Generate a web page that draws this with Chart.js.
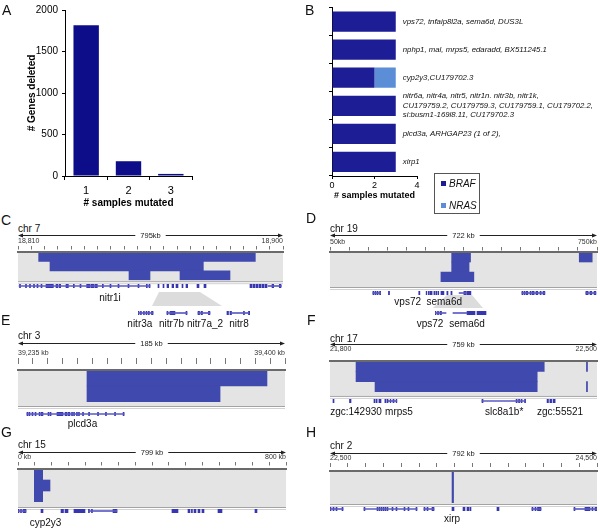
<!DOCTYPE html>
<html>
<head>
<meta charset="utf-8">
<script src="https://cdn.jsdelivr.net/npm/chart.js@4.4.1/dist/chart.umd.min.js"></script>
<style>
  body { margin: 0; width: 600px; height: 531px; position: relative; overflow: hidden; background: #fff;
         font-family: "Liberation Sans", Arial, Helvetica, sans-serif; color: #111; }
  canvas { position: absolute; }
  .txt { position: absolute; line-height: 1; white-space: nowrap; }
  .letter { font-size: 14px; }
  .chr { font-size: 10px; }
  .legend { position: absolute; left: 434px; top: 173px; width: 46px; height: 41px; border: 1px solid #555; box-sizing: border-box; }
  .legend div { position: absolute; left: 6px; font-size: 10px; font-style: italic; line-height: 10px; }
  .legend span { display: inline-block; width: 5px; height: 5px; margin-right: 3px; vertical-align: 1px; }
</style>
</head>
<body>
<script>
// ---- panel A ----
const samplesMutated = ['1', '2', '3'];
const genesDeleted = [1815, 178, 25];

// ---- panel B ----
const brafCounts = [3, 3, 2, 3, 3, 3];
const nrasCounts = [0, 0, 1, 0, 0, 0];
const seriesNames = ['BRAF', 'NRAS'];
const regionGeneLists = [
  ['vps72, tnfaip8l2a, sema6d, DUS3L'],
  ['nphp1, mal, mrps5, edaradd, BX511245.1'],
  ['cyp2y3,CU179702.3'],
  ['nitr6a, nitr4a, nitr5, nitr1n. nitr3b, nitr1k,', 'CU179759.2, CU179759.3, CU179759.1, CU179702.2,', 'si:busm1-169l8.11, CU179702.3'],
  ['plcd3a, ARHGAP23 (1 of 2),'],
  ['xirp1']
];

// ---- panels C-H: deletions [startKb, endKb, row], genes [startKb, endKb], labels [kb, name] ----
const chr7Del = [[62, 712, 0], [96, 556, 1], [333, 396, 2], [486, 636, 2]];
const chr7Exons = [[4.5,7.5],[22.5,25.5],[34.5,37.5],[46.5,49.5],[57,60],[69,72],[84,106],[114,120],[124,128],[144,151],[166,169],[186,189],[206,216],[219,228],[231,238],[253,256],[276,279],[300,303],[330,333],[360,363],[385,388],[393,396],[420,423],[435,438],[447,452],[462,467],[474,480],[492,495],[504,509],[537,543],[558,564],[696,702],[705,711],[714,720],[723,729],[732,738],[741,747],[762,767],[784,789]];
const chr7Introns = [[3, 396], [750, 790]];
const chr7Labels = [[276, 'nitr1i']];
const chr7InsetExons = [[423,424.1],[425.7,426.7],[429,430],[431.8,432.9],[434.4,435.5],[437.8,439.5],[454.8,455.9],[458.1,463.6],[475.7,476.8],[488.9,490.6],[492.2,493.8],[500.3,502],[520.7,522.4],[524,525.7],[538.8,539.9],[544.3,546]];
const chr7InsetIntrons = [[423,439.5],[454.8,476.8],[488.9,502],[525.1,544.9]];
const chr7InsetLabels = [[425,'nitr3a'],[459.8,'nitr7b'],[496.6,'nitr7a_2'],[533.9,'nitr8']];

const chr19Del = [[329, 380, 0], [329, 376, 1], [300, 389, 2], [674, 709, 0]];
const chr19Exons = [[116,119],[122,124],[127,130],[134,137],[158,161],[240,243],[260,262],[266,268],[270,276],[281,283],[286,289],[292,294],[300,308],[316,319],[327,330],[362,368],[370,381],[519,522],[525,527],[530,535],[541,543],[546,552],[557,562],[568,571],[576,581],[692,698],[703,708],[714,719]];
const chr19Introns = [[116,137],[349,368],[519,581],[692,719]];
const chr19Labels = [[210, 'vps72'], [309, 'sema6d']];
const chr19InsetExons = [[316,317.3],[319.3,320.6],[322.5,324.5],[357.9,368.3],[370.9,382.7]];
const chr19InsetIntrons = [[316,330.4],[339.5,357.9]];
const chr19InsetLabels = [[309.5,'vps72'],[357.9,'sema6d']];

const chr3Del = [[47.8, 172.5, 0], [47.8, 140, 1]];
const chr3Exons = [[6.2,6.9],[7.6,8.3],[9.7,10.4],[11.8,12.5],[14.6,15.2],[15.9,17.3],[20.8,21.5],[22.2,22.9],[27,31.2],[32.6,34],[34.7,36],[37.1,37.8],[38.5,39.2],[40.5,41.2],[41.9,42.6],[44.7,45.4],[48.9,49.6],[55.1,55.8],[60.6,61.3],[66.9,67.6],[72.8,73.5]];
const chr3Introns = [[6.2, 73.5]];
const chr3Labels = [[44.7, 'plcd3a']];

const chr17Del = [[74, 609, 0], [74, 589, 1], [128, 589, 2], [729, 732, 0], [729, 732, 2]];
const chr17Exons = [[8.5,11.4],[55.4,59.7],[125,128],[131,134],[139,145],[156,159],[162,165],[171,173],[179,182],[188,190],[432,435],[529,532],[536,539],[543,546],[553,556],[617,621],[625,630],[634,640]];
const chr17Introns = [[165,190],[432,554]];
const chr17Labels = [[73.9,'zgc:142930'],[196,'mrps5'],[495,'slc8a1b*'],[654,'zgc:55521']];

const chr15Del = [[48.6, 73.6, 0], [48.6, 95.4, 1], [48.6, 73.6, 2]];
const chr15Exons = [[0,3],[7.5,10.4],[14.9,23.8],[68.6,74.5],[128.2,135.6],[140.1,149.1],[166.9,199.7],[210,213],[219,222],[283.2,295.1],[459,477],[506.8,512.7],[517,520],[524.7,530.6],[536.6,542.5],[548.5,554.5],[596.2,608.1],[706.5,712.5]];
const chr15Introns = [[0,23.8],[211.7,295.1]];
const chr15Labels = [[82, 'cyp2y3']];

const chr2Del = [[362, 366.5, 0]];
const chr2Exons = [[0,3],[8.9,11.9],[17.8,20.8],[35.6,38.6],[100.8,103.8],[139.4,142.4],[145.3,148.3],[151.3,154.2],[157.2,160.2],[163.1,166.1],[169.1,172],[183.9,186.9],[195.8,198.7],[219.5,222.5],[231.3,234.3],[255.1,258],[278.8,281.8],[287.7,290.7],[302.5,308.5],[361.9,367.8],[394.5,400.4],[406.3,412.3],[415.2,418.2],[495.3,501.3],[599.1,602.1],[608,611],[615.4,625.8],[723.7,726.7],[756.3,771.2],[777.1,780.1],[786,792]];
const chr2Introns = [[0,38.6],[100.8,258],[278.8,308.5],[599,626],[723.7,792]];
const chr2Labels = [[362, 'xirp']];

const FONT = '"Liberation Sans", Arial, Helvetica, sans-serif';
const DEL_BLUE = '#4049ad';
const EXON_BLUE = '#3636b0';
const INTRON_BLUE = '#5a5ac4';
const SERIES_COLORS = ['#1d1d96', '#5b8ed6'];
Chart.defaults.font.family = FONT;
Chart.defaults.color = '#111';

function addCanvas(x, y, w, h) {
  const c = document.createElement('canvas');
  c.width = Math.round(w); c.height = Math.round(h);
  c.style.left = Math.round(x) + 'px'; c.style.top = Math.round(y) + 'px';
  document.body.appendChild(c);
  return c;
}
function addText(text, x, y, cls) {
  const d = document.createElement('div');
  d.className = 'txt ' + cls;
  d.textContent = text;
  d.style.left = x + 'px'; d.style.top = y + 'px';
  document.body.appendChild(d);
}
const quiet = { legend: { display: false }, tooltip: { enabled: false } };

// ---- A: genes deleted per number of mutated samples ----
new Chart(addCanvas(0, 0, 200, 209), {
  type: 'bar',
  data: { labels: samplesMutated, datasets: [{ data: genesDeleted, backgroundColor: '#0d0d8a', barPercentage: 0.6, categoryPercentage: 1 }] },
  options: {
    responsive: false, animation: false,
    layout: { padding: { left: 26, top: 9, right: 8, bottom: 0 } },
    plugins: quiet,
    scales: {
      x: {
        grid: { offset: true, drawOnChartArea: false, tickLength: 4, color: '#000' },
        border: { color: '#000' },
        ticks: { font: { size: 11 }, color: '#000', padding: 4 },
        title: { display: true, text: '# samples mutated', font: { size: 10, weight: 'bold' }, color: '#000', padding: 0 },
        afterFit: s => { s.height = 33; }
      },
      y: {
        min: 0, max: 2000,
        ticks: { stepSize: 500, font: { size: 10 }, color: '#000', padding: 4, callback: v => String(v) },
        grid: { drawOnChartArea: false, tickLength: 3, color: '#000' },
        border: { color: '#000' },
        title: { display: true, text: '# Genes deleted', font: { size: 10, weight: 'bold' }, color: '#000', padding: 0 },
        afterFit: s => { s.width = 39; }
      }
    }
  }
});

// ---- B: recurrent regions, stacked by mutation ----
const regionText = {
  id: 'regionText',
  afterDatasetsDraw(chart) {
    const { ctx, scales: { x, y } } = chart;
    ctx.save();
    ctx.font = 'italic 7.8px ' + FONT;
    ctx.fillStyle = '#111'; ctx.textBaseline = 'middle'; ctx.textAlign = 'left';
    regionGeneLists.forEach((lines, i) => {
      const tx = x.getPixelForValue(brafCounts[i] + nrasCounts[i]) + 7;
      const cy = y.getPixelForValue(i);
      lines.forEach((t, k) => ctx.fillText(t, tx, cy + (k - (lines.length - 1) / 2) * 9.5));
    });
    ctx.restore();
  }
};
new Chart(addCanvas(300, 0, 300, 205), {
  type: 'bar',
  data: {
    labels: regionGeneLists.map((_, i) => 'region ' + (i + 1)),
    datasets: [
      { label: seriesNames[0], data: brafCounts, backgroundColor: SERIES_COLORS[0], barPercentage: 0.72, categoryPercentage: 1 },
      { label: seriesNames[1], data: nrasCounts, backgroundColor: SERIES_COLORS[1], barPercentage: 0.72, categoryPercentage: 1 }
    ]
  },
  options: {
    indexAxis: 'y', responsive: false, animation: false,
    layout: { padding: { left: 28, top: 7.5, right: 183, bottom: 0 } },
    plugins: quiet,
    scales: {
      x: {
        stacked: true, min: 0, max: 4,
        ticks: { stepSize: 2, font: { size: 9 }, color: '#000', padding: 1 },
        grid: { drawOnChartArea: false, tickLength: 3, color: '#000' },
        border: { color: '#000' },
        title: { display: true, text: '# samples mutated', font: { size: 9, weight: 'bold' }, color: '#000', padding: { top: 0, bottom: 4 } },
        afterFit: s => { s.height = 29; }
      },
      y: {
        stacked: true,
        ticks: { display: false },
        grid: { offset: true, drawOnChartArea: false, tickLength: 3, color: '#000' },
        border: { color: '#000' },
        afterFit: s => { s.width = 4; }
      }
    }
  },
  plugins: [regionText]
});
const legend = document.createElement('div');
legend.className = 'legend';
seriesNames.forEach((name, i) => {
  const row = document.createElement('div');
  row.style.top = (5 + i * 22) + 'px';
  row.innerHTML = '<span style="background:' + SERIES_COLORS[i] + '"></span>' + name;
  legend.appendChild(row);
});
document.body.appendChild(legend);

// ---- C-H: IGV style deletion views ----
const genomeDecor = {
  id: 'genomeDecor',
  beforeDraw(chart, args, o) {
    const { ctx, chartArea: a } = chart;
    const w = a.right - a.left;
    ctx.save();
    ctx.fillStyle = '#e4e4e4';
    ctx.fillRect(a.left, a.top, w, a.bottom - a.top + o.extra);
    ctx.fillStyle = '#a3a3a3';
    ctx.fillRect(a.left, a.bottom + o.extra, w, 1);
    ctx.fillStyle = '#d2d2d2';
    ctx.fillRect(a.left, a.bottom + o.extra + 2, w, 1);
    // ruler with span label
    const y = Math.round(o.rulerY) + 0.5;
    ctx.font = '7.5px ' + FONT;
    const tw = ctx.measureText(o.span).width;
    const mid = (a.left + a.right) / 2;
    ctx.strokeStyle = '#222'; ctx.fillStyle = '#222'; ctx.lineWidth = 1;
    ctx.beginPath();
    ctx.moveTo(a.left + 3, y); ctx.lineTo(mid - tw / 2 - 5, y);
    ctx.moveTo(mid + tw / 2 + 5, y); ctx.lineTo(a.right - 3, y);
    ctx.stroke();
    ctx.beginPath(); ctx.moveTo(a.left, y); ctx.lineTo(a.left + 5, y - 2); ctx.lineTo(a.left + 5, y + 2); ctx.fill();
    ctx.beginPath(); ctx.moveTo(a.right, y); ctx.lineTo(a.right - 5, y - 2); ctx.lineTo(a.right - 5, y + 2); ctx.fill();
    ctx.textAlign = 'center'; ctx.textBaseline = 'middle';
    ctx.fillText(o.span, mid, y);
    ctx.restore();
  }
};

const geneDecor = {
  id: 'geneDecor',
  beforeDatasetsDraw(chart, args, o) {
    if (!o.zoom) return;
    const { ctx, chartArea: a, scales: { x } } = chart;
    const z = o.zoom;
    const x0 = x.getPixelForValue(z.from), x1 = x.getPixelForValue(z.to);
    const yc = (a.top + a.bottom) / 2;
    ctx.save();
    ctx.fillStyle = '#dcdcdc';
    ctx.beginPath();
    ctx.moveTo(x0, yc + z.top); ctx.lineTo(x1, yc + z.top);
    ctx.lineTo(x1 + z.spread[1], yc + z.top + z.h); ctx.lineTo(x0 - z.spread[0], yc + z.top + z.h);
    ctx.closePath(); ctx.fill();
    ctx.restore();
  },
  afterDatasetsDraw(chart, args, o) {
    const { ctx, chartArea: a, scales: { x } } = chart;
    const yc = (a.top + a.bottom) / 2;
    ctx.save();
    ctx.font = '10px ' + FONT;
    ctx.fillStyle = '#111'; ctx.textAlign = 'center'; ctx.textBaseline = 'middle';
    o.labels.forEach(([kb, name]) => ctx.fillText(name, x.getPixelForValue(kb), yc + o.labelDy));
    ctx.restore();
  }
};

function deletionBox(p) {
  const pad = 8;
  const cTop = p.rulerY - 8;
  const rowsBottom = p.boxTop + p.rows * p.rowH;
  const cH = Math.ceil(rowsBottom + p.extra + 5 - cTop);
  const axisH = p.boxTop - cTop - 2;   // axis box must hold the tick labels (they are clipped to it)
  const rowIds = Array.from({ length: p.rows }, (_, i) => 'r' + i);
  new Chart(addCanvas(p.L - pad, cTop, p.R - p.L + 2 * pad, cH), {
    type: 'bar',
    data: {
      labels: rowIds,
      datasets: [{
        data: p.deletions.map(d => ({ x: [d[0], d[1]], y: 'r' + d[2] })),
        backgroundColor: DEL_BLUE, barPercentage: 1, categoryPercentage: 1
      }]
    },
    options: {
      indexAxis: 'y', responsive: false, animation: false,
      layout: { padding: { left: pad, right: pad, top: 2, bottom: cH - (rowsBottom - cTop) } },
      plugins: { ...quiet, genomeDecor: { extra: p.extra, rulerY: p.rulerY - cTop, span: p.spanLabel } },
      scales: {
        x: {
          type: 'linear', position: 'top', min: 0, max: p.span,
          afterFit: s => { s.height = axisH; },
          ticks: {
            count: p.ticks, autoSkip: false, maxRotation: 0, align: 'inner', padding: 1,
            font: { size: 7 }, color: '#333',
            callback: (v, i, t) => i === 0 ? p.startLabel : (i === t.length - 1 ? p.endLabel : '')
          },
          grid: { drawOnChartArea: false, tickLength: p.tickLen, color: p.tickColor || '#777',
                  tickBorderDash: [p.tickVis, 40] },
          border: { color: '#6a6a6a', width: 2, z: 1 }
        },
        y: { display: false }
      }
    },
    plugins: [genomeDecor]
  });
}

function geneTrack(t) {
  const padL = t.padL || 8, padR = t.padR || 8, below = t.below || 22;
  new Chart(addCanvas(t.L - padL, t.y - 8, t.R - t.L + padL + padR, 12 + below), {
    type: 'bar',
    data: {
      labels: ['g'],
      datasets: [
        { data: t.introns.map(g => ({ x: g, y: 'g' })), backgroundColor: INTRON_BLUE, barThickness: 1, grouped: false },
        { data: t.exons.map(g => ({ x: g, y: 'g' })), backgroundColor: EXON_BLUE, barThickness: 7, grouped: false }
      ]
    },
    options: {
      indexAxis: 'y', responsive: false, animation: false,
      layout: { padding: { left: padL, right: padR, top: 4, bottom: 4 + below } },
      plugins: { ...quiet, geneDecor: { labels: t.labels, labelDy: t.labelDy, zoom: t.zoom } },
      scales: {
        x: { type: 'linear', display: false, min: t.min, max: t.max },
        y: { display: false }
      }
    },
    plugins: [geneDecor]
  });
}

const panels = [
  { letter: 'C', lx: 1, ly: 213, chr: 'chr 7', cy: 223.5, L: 18, R: 283, span: 795, spanLabel: '795kb', startLabel: '18,810', endLabel: '18,900',
    ticks: 21, tickLen: 6, tickVis: 3.5, rulerY: 235, boxTop: 252, rows: 3, rowH: 9.4, extra: 1, deletions: chr7Del,
    geneY: 288, exons: chr7Exons, introns: chr7Introns, labels: chr7Labels, labelDy: 12, below: 26,
    zoom: { from: 423, to: 546, top: 6, h: 14, spread: [7, 22] } },
  { letter: 'D', lx: 306, ly: 211, chr: 'chr 19', cy: 223.5, L: 330, R: 597, span: 722, spanLabel: '722 kb', startLabel: '50kb', endLabel: '750kb',
    ticks: 15, tickLen: 5, tickVis: 3.5, rulerY: 235, boxTop: 252, rows: 3, rowH: 10, extra: 5, deletions: chr19Del,
    geneY: 295, exons: chr19Exons, introns: chr19Introns, labels: chr19Labels, labelDy: 9, below: 22,
    zoom: { from: 316, to: 384, top: 2, h: 13, spread: [14, 11] } },
  { letter: 'E', lx: 1, ly: 313, chr: 'chr 3', cy: 331, L: 18, R: 285, span: 185, spanLabel: '185 kb', startLabel: '39,235 kb', endLabel: '39,400 kb',
    ticks: 19, tickLen: 12, tickVis: 6, rulerY: 343, boxTop: 370, rows: 2, rowH: 16, extra: 4, deletions: chr3Del,
    geneY: 416, exons: chr3Exons, introns: chr3Introns, labels: chr3Labels, labelDy: 10 },
  { letter: 'F', lx: 307, ly: 313, chr: 'chr 17', cy: 333.5, L: 330, R: 597, span: 759, spanLabel: '759 kb', startLabel: '21,800', endLabel: '22,500',
    ticks: 15, tickLen: 7, tickVis: 3, tickColor: 'rgba(0,0,0,0)', rulerY: 344, boxTop: 361, rows: 3, rowH: 10.3, extra: 4, deletions: chr17Del,
    geneY: 403, exons: chr17Exons, introns: chr17Introns, labels: chr17Labels, labelDy: 11 },
  { letter: 'G', lx: 1, ly: 425, chr: 'chr 15', cy: 440, L: 18, R: 286, span: 799, spanLabel: '799 kb', startLabel: '0 kb', endLabel: '800 kb',
    ticks: 17, tickLen: 7, tickVis: 3.5, rulerY: 452, boxTop: 469, rows: 3, rowH: 11, extra: 5, deletions: chr15Del,
    geneY: 513, exons: chr15Exons, introns: chr15Introns, labels: chr15Labels, labelDy: 12 },
  { letter: 'H', lx: 306, ly: 425, chr: 'chr 2', cy: 440.5, L: 330, R: 597, span: 792, spanLabel: '792 kb', startLabel: '22,500', endLabel: '24,500',
    ticks: 16, tickLen: 8, tickVis: 4, rulerY: 453, boxTop: 471, rows: 1, rowH: 32, extra: 1, deletions: chr2Del,
    geneY: 511, exons: chr2Exons, introns: chr2Introns, labels: chr2Labels, labelDy: 10 }
];

addText('A', 2, 3, 'letter');
addText('B', 305, 3, 'letter');
panels.forEach(p => {
  addText(p.letter, p.lx, p.ly, 'letter');
  addText(p.chr, p.L, p.cy, 'chr');
  deletionBox(p);
  geneTrack({ L: p.L, R: p.R, min: 0, max: p.span, y: p.geneY, exons: p.exons, introns: p.introns,
              labels: p.labels, labelDy: p.labelDy, zoom: p.zoom, below: p.below });
});

// zoomed-in gene insets under C and D
geneTrack({ L: 138, R: 250, min: 423, max: 546, y: 315, exons: chr7InsetExons, introns: chr7InsetIntrons,
            labels: chr7InsetLabels, labelDy: 11, padL: 20, padR: 10, below: 18 });
geneTrack({ L: 435, R: 487, min: 316, max: 384, y: 315, exons: chr19InsetExons, introns: chr19InsetIntrons,
            labels: chr19InsetLabels, labelDy: 11, padL: 25, padR: 10, below: 18 });
</script>
</body>
</html>
